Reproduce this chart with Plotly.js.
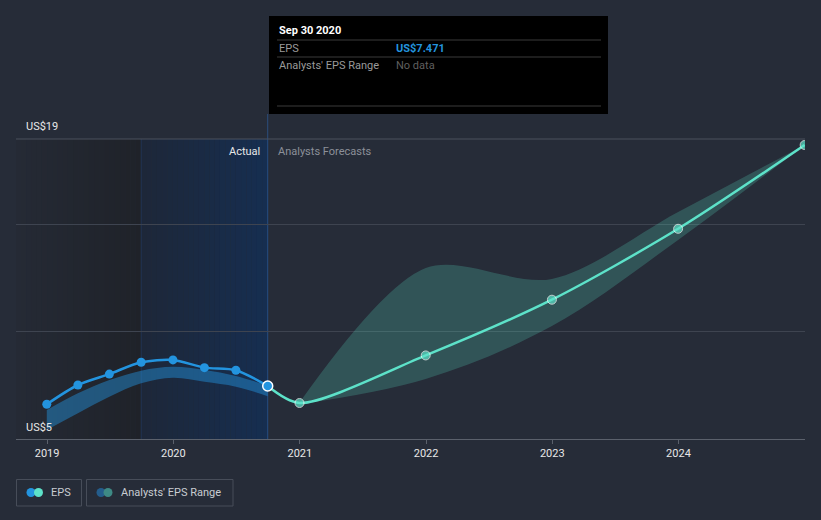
<!DOCTYPE html>
<html>
<head>
<meta charset="utf-8">
<script src="https://cdn.plot.ly/plotly-3.0.1.min.js"></script>
<style>html,body{margin:0;padding:0;background:#262c38;}#chart{width:821px;height:520px;}</style>
</head>
<body>
<div id="chart"></div>
<script>
// ---- data ----
const actualDates = ['2018-12-31','2019-03-31','2019-06-30','2019-09-30','2019-12-31','2020-03-31','2020-06-30','2020-09-30'];
const actualEps = [6.62, 7.52, 8.03, 8.58, 8.69, 8.33, 8.21, 7.471];
const actualRangeLow = [5.42, 6.20, 6.97, 7.60, 7.86, 7.67, 7.44, 7.00];
const actualRangeHigh = [6.35, 7.13, 7.75, 8.19, 8.37, 8.22, 7.94, 7.49];

const forecastDates = ['2020-09-30','2020-12-31','2021-12-31','2022-12-31','2023-12-31','2024-12-31'];
const forecastEps = [7.471, 6.68, 8.90, 11.50, 14.81, 18.72];
const rangeDates = ['2020-12-31','2021-12-31','2022-12-31','2023-12-31','2024-12-31'];
const forecastLow = [6.62, 7.80, 10.27, 14.29, 18.72];
const forecastHigh = [6.70, 12.98, 12.47, 15.59, 18.72];

const yearTicks = ['2019-01-01','2020-01-01','2021-01-01','2022-01-01','2023-01-01','2024-01-01'];
const yearLabels = ['2019','2020','2021','2022','2023','2024'];
const yTickVals = [5, 10, 15, 19];

// ---- layout helpers (pixel -> paper) ----
const L = 16, R = 805, T = 139, B = 439;
const px = x => (x - L) / (R - L);
const py = y => (B - y) / (B - T);

const BLUE = '#2394df', TEAL = '#5de2c9', BG = '#262c38';

const traces = [
  {x: actualDates, y: actualRangeLow, mode: 'lines', line: {width: 0, shape: 'spline'}, hoverinfo: 'skip', showlegend: false},
  {x: actualDates, y: actualRangeHigh, mode: 'lines', fill: 'tonexty', fillcolor: 'rgba(35,148,223,0.45)', line: {width: 0, shape: 'spline'}, hoverinfo: 'skip', showlegend: false},
  {x: rangeDates, y: forecastLow, mode: 'lines', line: {width: 0, shape: 'spline'}, hoverinfo: 'skip', showlegend: false},
  {x: rangeDates, y: forecastHigh, mode: 'lines', fill: 'tonexty', fillcolor: 'rgba(93,226,201,0.22)', line: {width: 0, shape: 'spline', smoothing: 0.9}, hoverinfo: 'skip', showlegend: false},
  {x: forecastDates, y: forecastEps, mode: 'lines+markers', line: {color: TEAL, width: 2.5, shape: 'spline', smoothing: 0.8},
   marker: {color: TEAL, size: [0, 9, 9, 9, 9, 9]}, showlegend: false},
  {x: actualDates, y: actualEps, mode: 'lines+markers', line: {color: BLUE, width: 2.5, shape: 'spline', smoothing: 0.8},
   marker: {color: BLUE, size: 9}, showlegend: false},
  {x: [actualDates[actualDates.length-1]], y: [actualEps[actualEps.length-1]], mode: 'markers',
   marker: {color: BLUE, size: 10, line: {color: '#ffffff', width: 1.5}}, showlegend: false}
];

const shapes = [];
const nS = 24;
function lerp(a, b, t){return Math.round(a + (b - a) * t);}
const d0 = new Date('2018-10-03').getTime(), d1 = new Date('2019-09-30').getTime(), d2 = new Date('2020-09-30').getTime();
for (let i = 0; i < nS; i++) {
  const t = (i + 0.5) / nS;
  const xa = new Date(d0 + (d1 - d0) * i / nS).toISOString().slice(0,10);
  const xb = new Date(d0 + (d1 - d0) * (i + 1) / nS).toISOString().slice(0,10);
  shapes.push({type: 'rect', layer: 'below', xref: 'x', yref: 'paper', x0: xa, x1: xb, y0: 0, y1: 1, line: {width: 0},
    fillcolor: `rgb(${lerp(37,31,t)},${lerp(42,34,t)},${lerp(53,41,t)})`});
}
for (let i = 0; i < nS; i++) {
  const t = (i + 0.5) / nS;
  const xa = new Date(d1 + (d2 - d1) * i / nS).toISOString().slice(0,10);
  const xb = new Date(d1 + (d2 - d1) * (i + 1) / nS).toISOString().slice(0,10);
  shapes.push({type: 'rect', layer: 'below', xref: 'x', yref: 'paper', x0: xa, x1: xb, y0: 0, y1: 1, line: {width: 0},
    fillcolor: `rgb(${lerp(29,22,t)},${lerp(39,46,t)},${lerp(56,80,t)})`});
}
shapes.push({type: 'line', layer: 'below', xref: 'x', yref: 'paper', x0: '2019-09-30', x1: '2019-09-30', y0: 0, y1: 1, line: {color: 'rgba(40,80,140,0.35)', width: 1}});
shapes.push({type: 'line', layer: 'below', xref: 'x', yref: 'paper', x0: '2020-09-30', x1: '2020-09-30', y0: 0, y1: py(114), line: {color: 'rgba(45,100,170,0.6)', width: 1}});
// top reference line at US$19
shapes.push({type: 'line', layer: 'above', xref: 'paper', yref: 'paper', x0: 0, x1: 1, y0: 1, y1: 1, line: {color: '#4b515c', width: 1}});
// tooltip box
shapes.push({type: 'rect', xref: 'paper', yref: 'paper', x0: px(269), x1: px(608), y0: py(114), y1: py(16), fillcolor: '#000000', line: {width: 0}});
[40, 57, 106].forEach(y => shapes.push({type: 'line', xref: 'paper', yref: 'paper', x0: px(277), x1: px(601), y0: py(y), y1: py(y), line: {color: '#3a3a3a', width: 1}}));
// legend boxes
shapes.push({type: 'rect', xref: 'paper', yref: 'paper', x0: px(16.5), x1: px(81.5), y0: py(506), y1: py(479.5), line: {color: '#474d59', width: 1}, fillcolor: 'rgba(0,0,0,0)'});
shapes.push({type: 'rect', xref: 'paper', yref: 'paper', x0: px(86.5), x1: px(233), y0: py(506), y1: py(479.5), line: {color: '#474d59', width: 1}, fillcolor: 'rgba(0,0,0,0)'});
function circ(cx, cy, r, col) {
  shapes.push({type: 'circle', xref: 'paper', yref: 'paper', x0: px(cx - r), x1: px(cx + r), y0: py(cy + r), y1: py(cy - r), fillcolor: col, line: {width: 0}});
}
circ(31, 492.5, 4.5, BLUE); circ(38.5, 492.5, 4.5, TEAL);
circ(101, 492.5, 4.5, '#245d8c'); circ(108, 492.5, 4.5, '#3e8a85');

const ann = (x, y, text, color, size, anchor, bold) => ({xref: 'paper', yref: 'paper', x: px(x), y: py(y), text: bold ? '<b>' + text + '</b>' : text,
  showarrow: false, xanchor: anchor || 'left', yanchor: 'middle', font: {color: color, size: size || 11, family: 'Roboto, sans-serif'}});

const annotations = [
  ann(24, 127, 'US$19', '#e8e8e8', 11),
  ann(24, 427, 'US$5', '#e8e8e8', 11),
  ann(262, 151, 'Actual', '#e8e8e8', 11, 'right'),
  ann(276, 151, 'Analysts Forecasts', '#8c9099', 11),
  ann(277, 31, 'Sep 30 2020', '#ffffff', 11, 'left', true),
  ann(277, 48, 'EPS', '#9a9a9a', 11),
  ann(394, 48, 'US$7.471', BLUE, 11, 'left', true),
  ann(277, 65, "Analysts' EPS Range", '#9a9a9a', 11),
  ann(394, 65, 'No data', '#5f5f5f', 11),
  ann(49, 492.5, 'EPS', '#c8ccd2', 11),
  ann(119, 492.5, "Analysts' EPS Range", '#c8ccd2', 11)
];

const layout = {
  width: 821, height: 520,
  margin: {l: L, r: 821 - R, t: T, b: 520 - B},
  paper_bgcolor: BG, plot_bgcolor: BG,
  showlegend: false,
  font: {family: 'Roboto, sans-serif', color: '#e8e8e8', size: 11},
  xaxis: {type: 'date', range: ['2018-10-03', '2025-01-01'], tickvals: yearTicks, ticktext: yearLabels,
    showgrid: false, zeroline: false, showline: true, linecolor: '#5b616c', linewidth: 1,
    ticks: 'outside', ticklen: 4, tickcolor: '#5b616c', tickfont: {size: 11, color: '#e8e8e8'}, fixedrange: true},
  yaxis: {range: [5, 19], tickvals: yTickVals, showticklabels: false, showgrid: true, gridcolor: '#3e4450', gridwidth: 1,
    zeroline: false, showline: false, fixedrange: true},
  shapes: shapes,
  annotations: annotations,
  hovermode: false
};

Plotly.newPlot('chart', traces, layout, {displayModeBar: false, staticPlot: true});
</script>
</body>
</html>
